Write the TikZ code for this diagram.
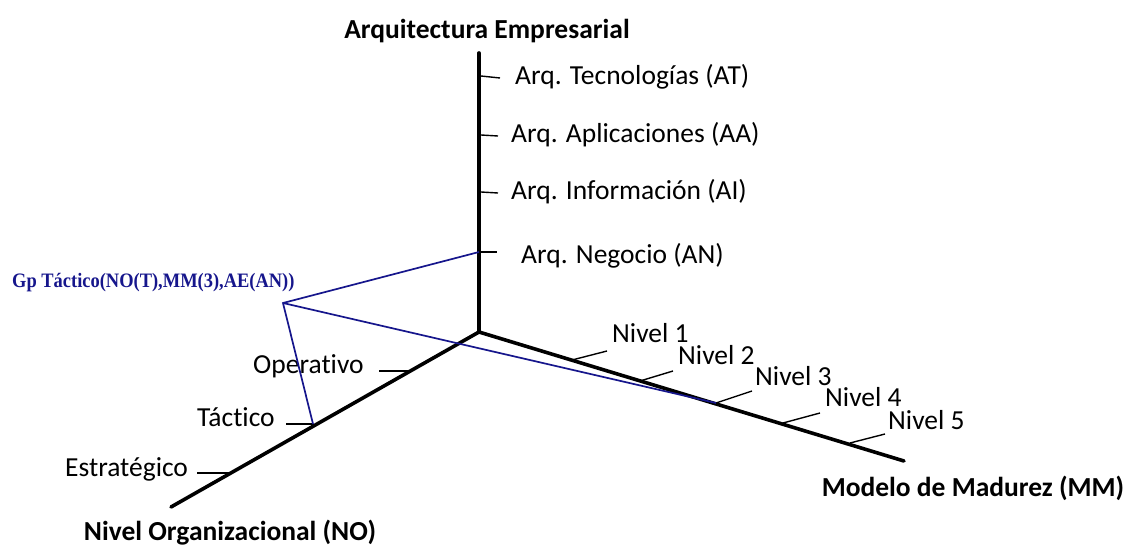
\documentclass[tikz,border=0pt]{standalone}
\usepackage{fontspec}
\setmainfont[Ligatures=NoCommon]{Carlito}
\newfontfamily\gpfont{Liberation Serif}
\definecolor{gpblue}{RGB}{22,22,140}
\begin{document}
\begin{tikzpicture}[x=1pt,y=-1pt,
  axis/.style={line width=3.6pt,line cap=round},
  tick/.style={line width=1.4pt},
  proj/.style={gpblue,line width=1.7pt},
  lbl/.style={font=\fontsize{27.5}{32}\selectfont,inner sep=0pt,anchor=mid west},
  title/.style={font=\fontsize{27.5}{32}\selectfont\bfseries,inner sep=0pt},
  gplbl/.style={font=\fontsize{20.5}{24}\selectfont\gpfont\bfseries,text=gpblue,inner sep=0pt,anchor=west,xscale=0.9}]
\useasboundingbox (0,0) rectangle (1130,548);

% axes
\coordinate (O) at (479,332);
\coordinate (AEtop) at (479,53);
\coordinate (MMend) at (904,461);
\coordinate (NOend) at (171,507);
\draw[axis] (O) -- (AEtop);
\draw[axis] (O) -- (MMend);
\draw[axis] (O) -- (NOend);

% axis titles
\node[title] (tAE) at (487,31) {Arquitectura Empresarial};
\node[title] (tMM) at (973,488) {Modelo de Madurez (MM)};
\node[title] (tNO) at (230,533) {Nivel Organizacional (NO)};

% Arquitectura Empresarial levels
\coordinate (aT) at (481,76);  \coordinate (aT2) at (500,78);
\coordinate (aA) at (481,135); \coordinate (aA2) at (498,136);
\coordinate (aI) at (481,192); \coordinate (aI2) at (498,193);
\coordinate (aN) at (479,252); \coordinate (aN2) at (497,252);
\draw[tick] (aT) -- (aT2);
\draw[tick] (aA) -- (aA2);
\draw[tick] (aI) -- (aI2);
\draw[tick] (aN) -- (aN2);
\node[lbl] (lAT) at (515,82) {Arq. Tecnologías (AT)};
\node[lbl] (lAA) at (511,140) {Arq. Aplicaciones (AA)};
\node[lbl] (lAI) at (511,197) {Arq. Información (AI)};
\node[lbl] (lAN) at (521,261) {Arq. Negocio (AN)};

% Nivel Organizacional levels
\coordinate (nO) at (411,371); \coordinate (nO2) at (379,371);
\coordinate (nT) at (313,424); \coordinate (nT2) at (286,424);
\coordinate (nE) at (229,473); \coordinate (nE2) at (197,473);
\draw[tick] (nO) -- (nO2);
\draw[tick] (nT) -- (nT2);
\draw[tick] (nE) -- (nE2);
\node[lbl] (lOp) at (253,371) {Operativo};
\node[lbl] (lTa) at (197,424) {Táctico};
\node[lbl] (lEs) at (65,474) {Estratégico};

% Modelo de Madurez levels
\coordinate (m1) at (572,360); \coordinate (m1b) at (607,351);
\coordinate (m2) at (640,381); \coordinate (m2b) at (673,371);
\coordinate (m3) at (716,403); \coordinate (m3b) at (752,391);
\coordinate (m4) at (783,423); \coordinate (m4b) at (820,413);
\coordinate (m5) at (850,443); \coordinate (m5b) at (885,434);
\draw[tick] (m1) -- (m1b);
\draw[tick] (m2) -- (m2b);
\draw[tick] (m3) -- (m3b);
\draw[tick] (m4) -- (m4b);
\draw[tick] (m5) -- (m5b);
\node[lbl] (l1) at (612,340) {Nivel 1};
\node[lbl] (l2) at (678,362) {Nivel 2};
\node[lbl] (l3) at (755,383) {Nivel 3};
\node[lbl] (l4) at (825,404) {Nivel 4};
\node[lbl] (l5) at (888,427) {Nivel 5};

% point Gp and its projections
\coordinate (P) at (283,303);
\draw[proj] (aN) -- (P) -- (nT);
\draw[proj] (P) -- (m3);
\node[gplbl] (gp) at (12,283) {Gp Táctico(NO(T),MM(3),AE(AN))};
\end{tikzpicture}
\end{document}
